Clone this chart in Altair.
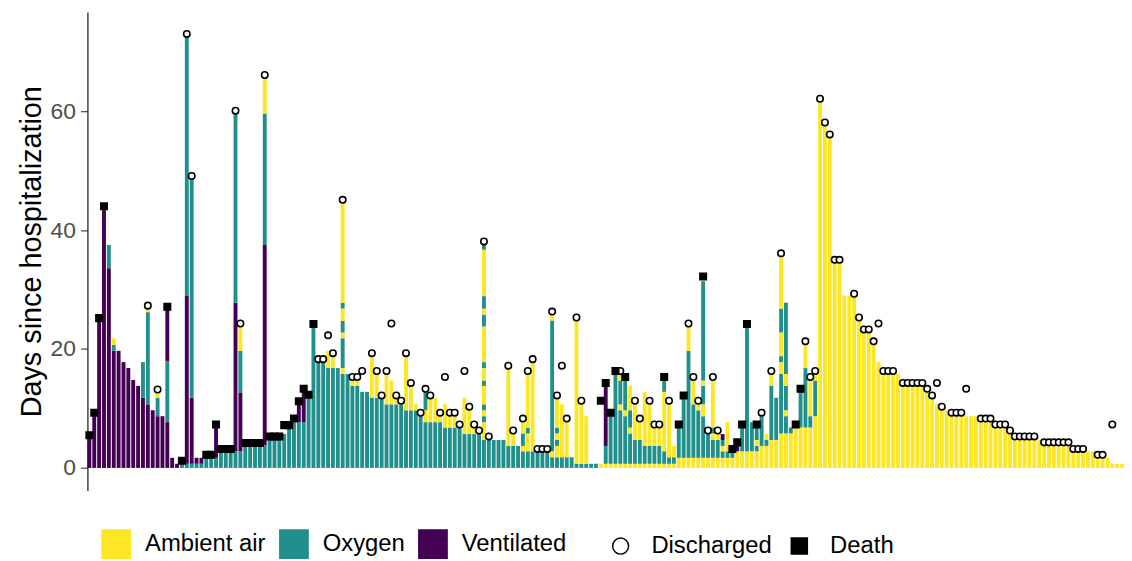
import altair as alt
import pandas as pd

# Status runs per patient, bottom to top: letter = status, number = day at which the run ends
segments = [
    "V5.0", "V8.8", "V24.7", "V43.5", "V33.6 O37.5", "V19.7 O20.7 A21.8", "V19.7", "V17.8",
    "V16.8", "V14.8", "V13.8", "V11.8 O17.8", "V10.7 O26.2 A27.1", "V9.7", "V8.7 O11.8 A12.7",
    "V8.7", "V7.7 O18.0 V26.7", "V1.7", "V0.7", "O0.7", "O0.7 V28.9 O72.7", "O0.7 V11.8 O48.6",
    "O0.7 V1.7", "O0.7 V1.7", "O1.7", "O1.7", "O1.7 V6.8", "O2.8", "O2.8", "O2.8",
    "O2.8 V27.8 O59.6", "O2.8 V12.7 O19.7 A23.8", "O3.8", "O3.8", "O3.8", "O3.8",
    "O3.8 V37.5 O59.6 A65.6", "O4.7", "O4.7", "O4.7", "O5.7", "O6.7", "O7.7", "O7.7 V10.7",
    "O7.7 V12.8", "O11.8", "O23.8", "O17.8", "O17.8", "O16.8 A19.7", "O16.8 A19.7", "O16.8",
    "O15.8 A16.8 O21.8 A22.8 O24.7 A26.8 O27.8 A44.7", "O15.8", "O13.8 A14.7", "O13.8 A14.7",
    "O12.8", "O12.8", "O11.8 A18.9", "O11.8 A15.8", "O11.8", "O10.7 A15.8", "O10.7 A14.7",
    "O10.7 A11.8", "O10.7", "O9.7 A18.9", "O9.7 A13.8", "O9.7 A10.7", "O8.7", "O7.7 A9.7 O12.8",
    "O7.7 A11.8", "O7.7 A11.8", "O7.7 A8.7", "O6.8 A10.7", "O6.8 A8.7", "O6.8 A8.7", "O6.8",
    "O5.7 A11.8", "O5.7 A9.7", "O5.7 A6.8", "O5.7",
    "O4.7 A7.7 O8.7 A9.7 O10.7 A13.8 O14.7 A16.8 O17.8 A23.8 O25.8 A26.8 O28.9 A36.7 O37.5",
    "O4.7", "O4.7", "O4.7", "O4.7", "O3.7 A16.8", "O3.7 A5.8", "O3.7", "O2.8 A3.7 O5.8 A7.7",
    "O2.8 A5.8 O6.8 A15.8", "O2.8 A17.8", "O2.8", "O2.8", "O2.8", "O1.8 A2.8 O24.8 A25.8",
    "O1.8 A3.7 O4.7 A5.8 O6.8 A11.8", "O1.8 A10.7", "O1.8 A7.7", "O1.8", "O0.7 A24.8",
    "O0.7 A10.7", "O0.7 A8.7", "O0.7", "O0.7", "A0.7", "A0.7 O3.7 V13.9", "A0.7 O8.7",
    "A0.7 O15.8", "A0.7 O9.7 A10.7 O14.7 A15.8", "A0.7 O8.7 A9.7 O14.7",
    "A0.7 O5.8 A6.8 O9.7 A13.8", "A0.7 O4.7 A10.7", "A0.7 O4.7 A7.7", "A0.7 O3.7 A12.8",
    "A0.7 O3.7 A10.7", "A0.7 O3.7 A6.8", "A0.7 O3.7 A6.8", "A0.7 O2.8 A12.8 O14.7",
    "A0.7 O1.8 A10.7", "A0.7 O1.8 A3.7", "A1.7 O6.8", "A1.7 O11.8", "A1.7 O19.7 A23.8",
    "A1.7 O10.7 A14.7", "A1.7 O9.7 A10.7", "A1.7 O8.7 A10.7 O13.8 A14.7 O31.4", "A1.7 O5.8",
    "A1.7 O4.7 A5.8 O6.8 A14.7", "A1.7 O4.7 A5.8", "A1.7 O2.8 A3.7 O4.7 V5.7", "A1.7 O2.8 A7.7",
    "A1.7 O2.7", "A2.8 V3.7", "A2.8 O6.8", "A2.8 O23.9", "A2.8 O7.7", "A2.8 O3.7 A4.7 O6.8",
    "A3.7 O8.7", "A3.7 O4.7 A5.7", "A4.7 O13.8 A15.8", "A4.7 O11.8",
    "A5.8 O15.8 A17.8 O18.8 A22.8 O26.8 A35.6", "A5.8 O8.7 A9.7 O13.8 A15.8 O27.8",
    "A5.8 O6.8", "A6.8", "A6.8 O12.8", "A6.8 O16.8 A20.8", "A6.8 O8.7 A14.7", "A8.7 O14.7 A15.8",
    "A61.8", "A57.8", "A55.8", "A34.7", "A34.7", "A29.0", "A29.0", "A29.0", "A24.8", "A22.9",
    "A22.9", "A20.8", "A17.8", "A15.8", "A15.8", "A15.8", "A15.8", "A13.8", "A13.8", "A13.8",
    "A13.8", "A13.8", "A12.8", "A11.8", "A10.7", "A9.8", "A9.7", "A8.7", "A8.7", "A8.7", "A8.7",
    "A8.7", "A8.7", "A7.8", "A7.8", "A7.8", "A6.8", "A6.8", "A6.8", "A5.8", "A4.7", "A4.7",
    "A4.7", "A4.7", "A4.7", "A4.7", "A3.7", "A3.7", "A3.7", "A3.7", "A3.7", "A3.7", "A2.8",
    "A2.8", "A2.8", "A2.8", "A2.8", "A1.8", "A1.8", "A1.7", "A0.7", "A0.7", "A0.7",
]

death_ids = [1, 2, 3, 4, 17, 20, 25, 26, 27, 28, 29, 30, 33, 34, 35, 36, 38, 39, 40, 41, 42,
             43, 44, 45, 46, 47, 106, 107, 108, 109, 111, 119, 122, 123, 127, 133, 134, 135,
             136, 138, 146, 147]
death_days = [5.5, 9.3, 25.2, 44.0, 27.1, 1.2, 2.2, 2.2, 7.3, 3.2, 3.2, 3.2, 4.2, 4.2, 4.2,
              4.2, 5.3, 5.3, 5.3, 7.2, 7.2, 8.3, 11.2, 13.3, 12.3, 24.2, 11.3, 14.3, 9.3, 16.3,
              15.3, 15.3, 7.3, 12.2, 32.2, 3.2, 4.3, 7.3, 24.2, 7.3, 7.3, 13.3]

discharged_ids = [13, 15, 21, 22, 31, 32, 37, 48, 49, 50, 51, 53, 55, 56, 57, 59, 60, 61, 62,
                  63, 64, 65, 66, 67, 69, 70, 71, 73, 74, 75, 76, 77, 78, 79, 80, 81, 82, 83,
                  87, 88, 90, 91, 92, 93, 94, 95, 96, 97, 98, 99, 101, 102, 110, 113, 114, 116,
                  117, 118, 120, 124, 125, 126, 128, 129, 130, 139, 141, 143, 148, 149, 150,
                  151, 152, 153, 154, 155, 158, 159, 160, 161, 162, 163, 164, 165, 166, 168,
                  169, 170, 171, 172, 173, 174, 175, 176, 178, 179, 180, 181, 184, 185, 186,
                  187, 188, 189, 190, 191, 192, 193, 194, 195, 197, 198, 199, 200, 201, 202,
                  203, 204, 205, 208, 209, 211]
discharged_days = [27.3, 13.2, 73.0, 49.1, 60.1, 24.3, 66.1, 18.3, 18.3, 22.3, 19.3, 45.1,
                   15.3, 15.3, 16.3, 19.3, 16.3, 12.2, 16.3, 24.3, 12.2, 11.3, 19.3, 14.3, 9.3,
                   13.3, 12.2, 9.3, 15.3, 9.3, 9.3, 7.3, 16.3, 10.3, 7.3, 6.3, 38.1, 5.3, 17.2,
                   6.3, 8.3, 16.3, 18.3, 3.2, 3.2, 3.2, 26.3, 12.2, 17.2, 8.3, 25.3, 11.3, 16.3,
                   11.3, 8.3, 11.3, 7.3, 7.3, 11.3, 24.3, 15.3, 11.3, 6.3, 15.3, 6.3, 9.3, 16.3,
                   36.1, 21.3, 15.3, 16.3, 62.1, 58.1, 56.1, 35.0, 35.0, 29.3, 25.3, 23.3, 23.3,
                   21.3, 24.3, 16.3, 16.3, 16.3, 14.3, 14.3, 14.3, 14.3, 14.3, 13.3, 12.2, 14.3,
                   10.3, 9.3, 9.3, 9.3, 13.3, 8.3, 8.3, 8.3, 7.3, 7.3, 7.3, 6.3, 5.3, 5.3, 5.3,
                   5.3, 5.3, 4.3, 4.3, 4.3, 4.3, 4.3, 4.3, 3.2, 3.2, 3.2, 2.2, 2.2, 7.3]

status_names = {"A": "Ambient air", "O": "Oxygen", "V": "Ventilated"}
status_order = ["Ambient air", "Oxygen", "Ventilated"]
status_colors = ["#FDE725", "#21908C", "#440154"]
outcome_order = ["Discharged", "Death"]

rows = []
for pid, s in enumerate(segments, start=1):
    start = 0.0
    for tok in s.split():
        end = float(tok[1:])
        rows.append({"pid": pid, "status": status_names[tok[0]], "start": start, "end": end})
        start = end
bars_df = pd.DataFrame(rows)

pts_df = pd.DataFrame({
    "pid": discharged_ids + death_ids,
    "outcome": ["Discharged"] * len(discharged_ids) + ["Death"] * len(death_ids),
    "day": discharged_days + death_days,
})

FONT = "Liberation Sans"
n = len(segments)
xscale = alt.Scale(domain=list(range(1, n + 1)), paddingInner=0.2, paddingOuter=0)
yscale = alt.Scale(domain=[-3.8, 76.7], nice=False, zero=False)
yaxis = alt.Axis(values=[0, 20, 40, 60], grid=False, labelFontSize=23, labelColor="#4D4D4D",
                 labelFont=FONT, labelPadding=5, tickSize=7, tickColor="#333333", tickWidth=1.1,
                 domainColor="black", domainWidth=1.1, titleFontSize=29, titleFont=FONT,
                 titleFontWeight="normal", titleColor="black", titlePadding=4)
ytitle = "Days since hospitalization"

bars = alt.Chart(bars_df).mark_bar(strokeWidth=0).encode(
    x=alt.X("pid:O", scale=xscale, axis=None),
    y=alt.Y("start:Q", scale=yscale, axis=yaxis, title=ytitle),
    y2="end:Q",
    color=alt.Color("status:N", title=None,
                    scale=alt.Scale(domain=status_order, range=status_colors),
                    legend=alt.Legend(orient="none", legendX=14, legendY=521,
                                      direction="horizontal", symbolType="square",
                                      symbolSize=900, symbolStrokeWidth=0, labelFontSize=24,
                                      labelFont=FONT, labelColor="black", labelOffset=14,
                                      columnPadding=13, padding=0, labelLimit=300)),
)

out_legend = alt.Legend(orient="none", legendX=525, legendY=526, direction="horizontal",
                        symbolSize=260, symbolStrokeWidth=1.5,
                        labelFontSize=24, labelFont=FONT, labelColor="black", labelOffset=19,
                        columnPadding=15, padding=0, labelLimit=300)

points = alt.Chart(pts_df).mark_point(filled=True, size=42, strokeWidth=1.6, opacity=1).encode(
    x=alt.X("pid:O", scale=xscale, axis=None),
    y=alt.Y("day:Q", scale=yscale, axis=yaxis, title=ytitle),
    shape=alt.Shape("outcome:N", title=None,
                    scale=alt.Scale(domain=outcome_order, range=["circle", "square"]),
                    legend=out_legend),
    fill=alt.Fill("outcome:N", title=None,
                  scale=alt.Scale(domain=outcome_order, range=["white", "black"]),
                  legend=out_legend),
    stroke=alt.Stroke("outcome:N", title=None,
                      scale=alt.Scale(domain=outcome_order, range=["black", "black"]),
                      legend=out_legend),
)

chart = alt.layer(bars, points).properties(
    width=1044, height=482,
    autosize=alt.AutoSizeParams(type="none"),
    padding={"left": 80, "top": 2, "right": 0, "bottom": 68},
    background="white",
).configure_view(stroke=None)

chart.save("out.html", embed_options={"renderer": "svg", "actions": False})
